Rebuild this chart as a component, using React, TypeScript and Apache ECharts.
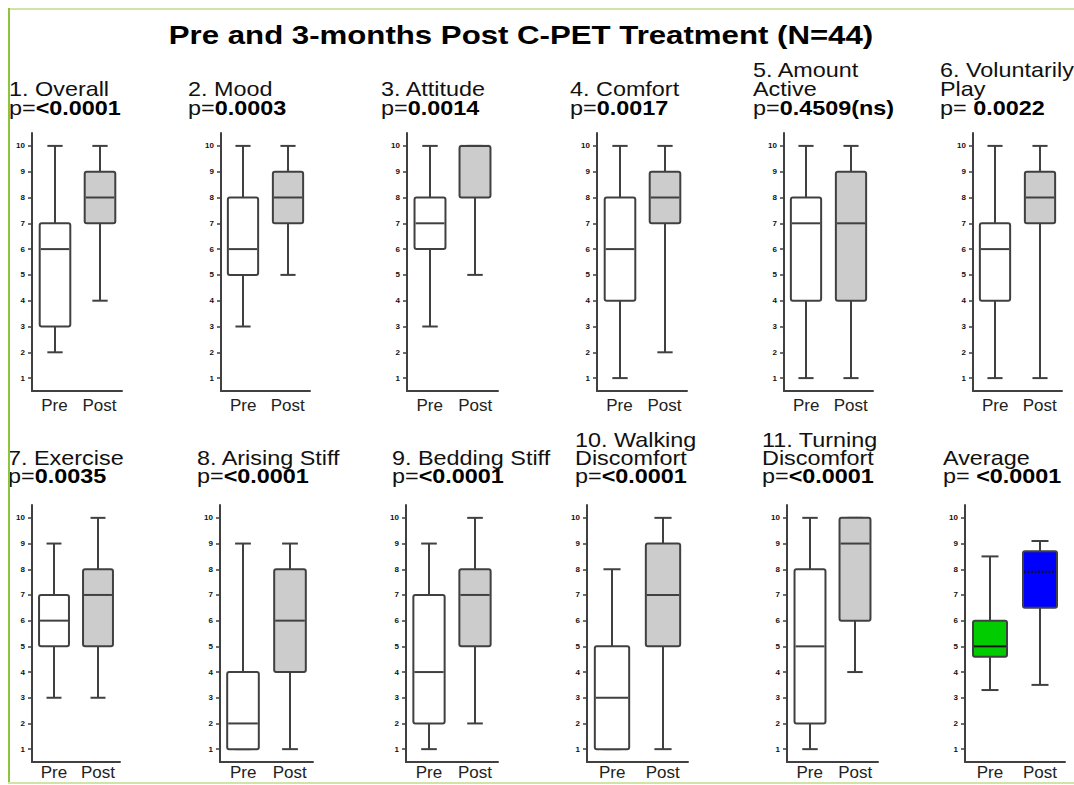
import React, { useEffect, useRef } from "react";
import * as echarts from "echarts";

// Group labels on every x axis
const groups = ["Pre", "Post"];
// Score ticks on every y axis
const yTicks = [1, 2, 3, 4, 5, 6, 7, 8, 9, 10];

// Panel headings (one or two lines each)
const panelNames: string[][] = [
  ["1. Overall"],
  ["2. Mood"],
  ["3. Attitude"],
  ["4. Comfort"],
  ["5. Amount", "Active"],
  ["6. Voluntarily", "Play"],
  ["7. Exercise"],
  ["8. Arising Stiff"],
  ["9. Bedding Stiff"],
  ["10. Walking", "Discomfort"],
  ["11. Turning", "Discomfort"],
  ["Average"],
];

// p-values shown under each heading
const pValues = [
  "<0.0001",
  "0.0003",
  "0.0014",
  "0.0017",
  "0.4509(ns)",
  " 0.0022",
  "0.0035",
  "<0.0001",
  "<0.0001",
  "<0.0001",
  "<0.0001",
  " <0.0001",
];

// Box statistics: [min, Q1, median, Q3, max]
const preStats = [
  [2, 3, 6, 7, 10],
  [3, 5, 6, 8, 10],
  [3, 6, 7, 8, 10],
  [1, 4, 6, 8, 10],
  [1, 4, 7, 8, 10],
  [1, 4, 6, 7, 10],
  [3, 5, 6, 7, 9],
  [1, 1, 2, 4, 9],
  [1, 2, 4, 7, 9],
  [1, 1, 3, 5, 8],
  [1, 2, 5, 8, 10],
  [3.3, 4.6, 5.0, 6.0, 8.5],
];
const postStats = [
  [4, 7, 8, 9, 10],
  [5, 7, 8, 9, 10],
  [5, 8, 10, 10, 10],
  [2, 7, 8, 9, 10],
  [1, 4, 7, 9, 10],
  [1, 7, 8, 9, 10],
  [3, 5, 7, 8, 10],
  [1, 4, 6, 8, 9],
  [2, 5, 7, 8, 10],
  [1, 5, 7, 9, 10],
  [4, 6, 9, 10, 10],
  [3.5, 6.5, 7.9, 8.7, 9.1],
];

const TITLE = "Pre and 3-months Post C-PET Treatment (N=44)";

// Plot-area rectangles [left, right] per panel and [top, bottom] per row
const rowLefts = [
  [32, 221, 407, 597, 784, 973],
  [32, 220, 406, 587, 787, 965],
];
const rowRights = [
  [122, 310, 498, 687, 873, 1062],
  [120, 313, 498, 688, 878, 1065],
];
const rowTops = [133, 505];
const rowBottoms = [391, 762];
const rowLabelMargins = [6, 2];
const headingX = [
  [9, 188, 381, 570, 753, 940],
  [8, 197, 392, 575, 762, 943],
];
// Baselines of the heading lines: [first of two, single/second, p-line]
const headingBaselines = [
  [77, 96, 115],
  [447, 465, 483],
];

const FONT = "Arial, 'Liberation Sans', sans-serif";
const LINE = "#404040";
const STRETCH = 1.17;

export default function App() {
  const ref = useRef<HTMLDivElement>(null);

  useEffect(() => {
    if (!ref.current) return;
    const chart = echarts.init(ref.current, null, { renderer: "svg" });

    const grids: any[] = [];
    const xAxes: any[] = [];
    const yAxes: any[] = [];
    const series: any[] = [];
    const graphics: any[] = [];

    panelNames.forEach((lines, i) => {
      const row = i < 6 ? 0 : 1;
      const col = i % 6;
      const left = rowLefts[row][col];
      const right = rowRights[row][col];
      grids.push({
        left,
        top: rowTops[row],
        width: right - left,
        height: rowBottoms[row] - rowTops[row],
        outerBoundsMode: "none",
      });
      xAxes.push({
        type: "category",
        gridIndex: i,
        data: groups,
        boundaryGap: true,
        axisLine: { lineStyle: { color: LINE, width: 2 } },
        axisTick: { alignWithLabel: true, length: 3, lineStyle: { color: LINE, width: 2 } },
        axisLabel: {
          interval: 0,
          hideOverlap: false,
          margin: rowLabelMargins[row],
          color: "#222",
          fontFamily: FONT,
          fontSize: 17,
        },
        splitLine: { show: false },
      });
      yAxes.push({
        type: "value",
        gridIndex: i,
        min: 0.5,
        max: 10.5,
        axisLine: { show: true, lineStyle: { color: LINE, width: 2 } },
        axisTick: {
          show: true,
          length: 4,
          customValues: yTicks,
          lineStyle: { color: LINE, width: 1.5 },
        },
        axisLabel: {
          customValues: yTicks,
          margin: 7,
          color: "#111",
          fontFamily: FONT,
          fontSize: 8,
          fontWeight: "bold",
        },
        splitLine: { show: false },
      });

      const isAverage = i === 11;
      const fills = isAverage ? ["#00cc00", "#0000ff"] : ["#ffffff", "#cccccc"];
      const medianColor = isAverage ? "#111111" : LINE;

      series.push({
        type: "custom",
        xAxisIndex: i,
        yAxisIndex: i,
        data: [
          [0, ...preStats[i]],
          [1, ...postStats[i]],
        ],
        renderItem: (params: any, api: any) => {
          const c = api.value(0);
          const lo = api.coord([c, api.value(1)]);
          const q1 = api.coord([c, api.value(2)]);
          const md = api.coord([c, api.value(3)]);
          const q3 = api.coord([c, api.value(4)]);
          const hi = api.coord([c, api.value(5)]);
          const band = api.size([1, 0])[0];
          const bw = band * 0.68;
          const cw = band * 0.34;
          const cx = Math.round(lo[0]);
          const stroke = { stroke: LINE, lineWidth: 2 };
          const dashed = isAverage && params.dataIndex === 1;
          return {
            type: "group",
            children: [
              { type: "line", shape: { x1: cx, y1: hi[1], x2: cx, y2: q3[1] }, style: stroke },
              { type: "line", shape: { x1: cx, y1: q1[1], x2: cx, y2: lo[1] }, style: stroke },
              { type: "line", shape: { x1: cx - cw / 2, y1: hi[1], x2: cx + cw / 2, y2: hi[1] }, style: stroke },
              { type: "line", shape: { x1: cx - cw / 2, y1: lo[1], x2: cx + cw / 2, y2: lo[1] }, style: stroke },
              {
                type: "rect",
                shape: { x: cx - bw / 2, y: q3[1], width: bw, height: q1[1] - q3[1], r: 2 },
                style: { fill: fills[params.dataIndex], stroke: LINE, lineWidth: 2 },
              },
              {
                type: "line",
                shape: { x1: cx - bw / 2 + 1, y1: md[1], x2: cx + bw / 2 - 1, y2: md[1] },
                style: {
                  stroke: medianColor,
                  lineWidth: 2,
                  lineDash: dashed ? [2, 1.5] : null,
                },
              },
            ],
          };
        },
      });

      // Panel heading
      const base = headingBaselines[row];
      const fs = 20;
      const ys = lines.length === 2 ? [base[0], base[1]] : [base[1]];
      lines.forEach((t, k) => {
        graphics.push({
          type: "text",
          x: headingX[row][col],
          y: ys[k] - 7,
          scaleX: STRETCH,
          style: {
            text: t,
            fill: "#111",
            fontFamily: FONT,
            fontSize: fs,
            verticalAlign: "middle",
            align: "left",
          },
        });
      });
      graphics.push({
        type: "text",
        x: headingX[row][col],
        y: base[2] - 7,
        scaleX: STRETCH,
        style: {
          text: `{n|p=}{b|${pValues[i]}}`,
          fill: "#111",
          fontFamily: FONT,
          fontSize: fs,
          verticalAlign: "middle",
          align: "left",
          rich: {
            n: { fontSize: fs, fill: "#111", fontFamily: FONT },
            b: { fontSize: fs, fontWeight: "bold", fill: "#000", fontFamily: FONT },
          },
        },
      });
    });

    // Main title
    graphics.push({
      type: "text",
      x: 521,
      y: 35,
      scaleX: 1.2,
      style: {
        text: TITLE,
        fill: "#000",
        fontFamily: FONT,
        fontSize: 26,
        fontWeight: "bold",
        align: "center",
        verticalAlign: "middle",
      },
    });

    // Frame lines
    graphics.push(
      { type: "rect", shape: { x: 8, y: 8, width: 1066, height: 2 }, style: { fill: "#cfe4a6" } },
      { type: "rect", shape: { x: 8, y: 8, width: 2, height: 776 }, style: { fill: "#8cc43e" } },
      { type: "rect", shape: { x: 8, y: 782, width: 1066, height: 2 }, style: { fill: "#cfe4a6" } }
    );

    chart.setOption({
      animation: false,
      backgroundColor: "#ffffff",
      grid: grids,
      xAxis: xAxes,
      yAxis: yAxes,
      series,
      graphic: graphics,
    });

    return () => chart.dispose();
  }, []);

  return (
    <div
      ref={ref}
      style={{ position: "absolute", left: 0, top: 0, width: 1074, height: 785 }}
    />
  );
}
